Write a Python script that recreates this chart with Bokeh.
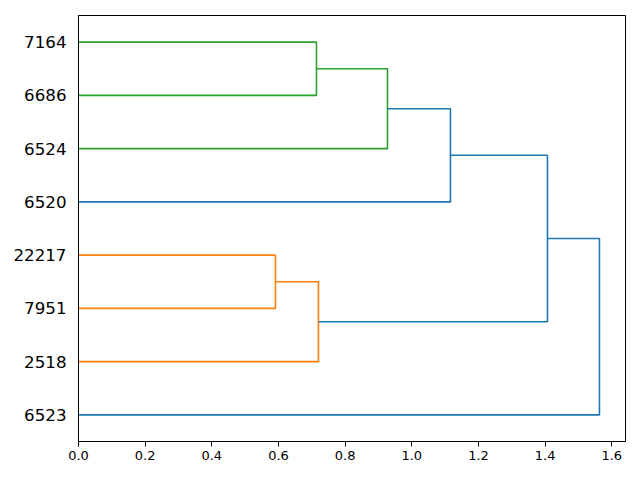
from bokeh.plotting import figure
from bokeh.models import FixedTicker, Range1d, ColumnDataSource, PrintfTickFormatter
from bokeh.embed import file_html
from bokeh.resources import INLINE

# Leaves, bottom to top
leaf_labels = ["6523", "2518", "7951", "22217", "6520", "6524", "6686", "7164"]
# Merges: children indices (leaves 0..7, new clusters 8..), merge height, link colour
merge_a = [6, 2, 5, 1, 4, 11, 0]
merge_b = [7, 3, 8, 9, 10, 12, 13]
merge_height = [0.714, 0.591, 0.927, 0.720, 1.116, 1.407, 1.563]
link_colors = ["#2ca02c", "#ff7f0e", "#2ca02c", "#ff7f0e", "#1f77b4", "#1f77b4", "#1f77b4"]
x_tick_values = [0.0, 0.2, 0.4, 0.6, 0.8, 1.0, 1.2, 1.4, 1.6]

leaf_pos = [5 + 10 * i for i in range(len(leaf_labels))]
node_pos = list(leaf_pos)
node_h = [0.0] * len(leaf_labels)
xs, ys = [], []
for a, b, h in zip(merge_a, merge_b, merge_height):
    xs.append([node_h[a], h, h, node_h[b]])
    ys.append([node_pos[a], node_pos[a], node_pos[b], node_pos[b]])
    node_pos.append((node_pos[a] + node_pos[b]) / 2)
    node_h.append(h)

src = ColumnDataSource(dict(xs=xs, ys=ys, color=link_colors))

p = figure(frame_width=547, frame_height=426,
           min_border_left=78, min_border_top=15, min_border_right=7, min_border_bottom=31,
           x_range=Range1d(0, max(merge_height) * 1.05), y_range=Range1d(0, 10 * len(leaf_labels)),
           output_backend="svg", toolbar_location=None)
p.multi_line(xs="xs", ys="ys", line_color="color", line_width=1.6, source=src)

p.xgrid.visible = False
p.ygrid.visible = False
p.outline_line_color = "black"
p.outline_line_alpha = 1.0
p.outline_line_width = 1

p.xaxis.ticker = FixedTicker(ticks=x_tick_values)
p.xaxis.formatter = PrintfTickFormatter(format="%.1f")
p.xaxis.minor_tick_line_color = None
p.xaxis.major_tick_out = 5
p.xaxis.major_tick_in = 0
p.xaxis.major_label_standoff = 4
p.xaxis.major_label_text_font = "DejaVu Sans"
p.xaxis.major_label_text_font_size = "13px"
p.xaxis.major_label_text_color = "black"

p.yaxis.ticker = FixedTicker(ticks=leaf_pos)
p.yaxis.major_label_overrides = {pos: lab for pos, lab in zip(leaf_pos, leaf_labels)}
p.yaxis.minor_tick_line_color = None
p.yaxis.major_tick_out = 0
p.yaxis.major_tick_in = 0
p.yaxis.major_label_standoff = 12
p.yaxis.major_label_text_font = "DejaVu Sans"
p.yaxis.major_label_text_font_size = "16.7px"
p.yaxis.major_label_text_color = "black"

for ax in (p.xaxis, p.yaxis):
    ax.axis_line_color = "black"
    ax.major_tick_line_color = "black"

open("out.html", "w").write(file_html(p, INLINE))
